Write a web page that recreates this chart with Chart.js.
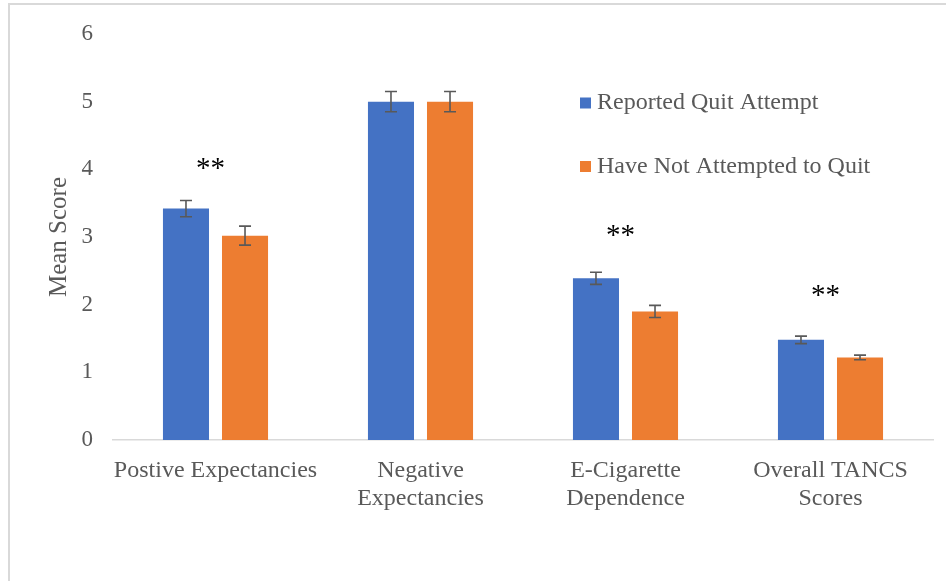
<!DOCTYPE html>
<html>
<head>
<meta charset="utf-8">
<title>Mean Score by Quit Attempt</title>
<script src="https://cdn.jsdelivr.net/npm/chart.js@4.4.1/dist/chart.umd.min.js"></script>
<style>
  html, body { margin: 0; padding: 0; background: #fff; overflow: hidden; }
  #wrap { position: relative; width: 946px; height: 581px; }
  #frame {
    position: absolute; left: 8px; top: 3px; width: 1000px; height: 700px;
    border: 2px solid #d9d9d9; pointer-events: none;
  }
</style>
</head>
<body>
<div id="wrap">
  <canvas id="meanChart" width="946" height="581"></canvas>
  <div id="frame"></div>
</div>
<script>
// categories and series
const categories = [
  ['Postive Expectancies'],
  ['Negative', 'Expectancies'],
  ['E-Cigarette', 'Dependence'],
  ['Overall TANCS', 'Scores']
];
const quitAttempt = [3.42, 5.00, 2.39, 1.48];
const noQuitAttempt = [3.02, 5.00, 1.90, 1.22];
const quitAttemptErr = [0.12, 0.15, 0.09, 0.055];
const noQuitAttemptErr = [0.14, 0.15, 0.09, 0.035];
// significance marks and where they sit (in score units)
const sigMarks = ['**', '', '**', '**'];
const sigHeights = [4.07, 0, 3.08, 2.18];
const yTicks = [0, 1, 2, 3, 4, 5, 6];

const serif = "'Liberation Serif', 'Times New Roman', serif";
const textGray = '#595959';

// error bars on every bar + stars above groups
const errorBarPlugin = {
  id: 'errorBars',
  afterDatasetsDraw(chart) {
    const ctx = chart.ctx;
    const yScale = chart.scales.y;
    const xScale = chart.scales.x;
    ctx.save();
    ctx.strokeStyle = '#595959';
    ctx.lineWidth = 1.6;
    chart.data.datasets.forEach((ds, i) => {
      const meta = chart.getDatasetMeta(i);
      meta.data.forEach((bar, j) => {
        const v = ds.data[j];
        const e = ds.errors[j];
        const top = yScale.getPixelForValue(v + e);
        const bot = yScale.getPixelForValue(v - e);
        const x = bar.x;
        ctx.beginPath();
        ctx.moveTo(x, top); ctx.lineTo(x, bot);
        ctx.moveTo(x - 6, top); ctx.lineTo(x + 6, top);
        ctx.moveTo(x - 6, bot); ctx.lineTo(x + 6, bot);
        ctx.stroke();
      });
    });

    ctx.fillStyle = '#000';
    ctx.font = '29px ' + serif;
    ctx.textAlign = 'center';
    ctx.textBaseline = 'alphabetic';
    sigMarks.forEach((m, j) => {
      if (!m) return;
      const x = xScale.getPixelForValue(j) - 5;
      const y = yScale.getPixelForValue(sigHeights[j]);
      ctx.fillText(m, x, y + 12);
    });
    ctx.restore();
  }
};

// legend drawn inside the plot area
const legendPlugin = {
  id: 'insideLegend',
  afterDraw(chart) {
    const ctx = chart.ctx;
    ctx.save();
    ctx.font = '24px ' + serif;
    ctx.textBaseline = 'middle';
    ctx.textAlign = 'left';
    chart.data.datasets.forEach((ds, i) => {
      const y = 103 + i * 63.5;
      ctx.fillStyle = ds.backgroundColor;
      ctx.fillRect(580, y - 5.5, 11, 11);
      ctx.fillStyle = textGray;
      ctx.fillText(ds.label, 597, y);
    });
    ctx.restore();
  }
};

const ctx = document.getElementById('meanChart').getContext('2d');
new Chart(ctx, {
  type: 'bar',
  data: {
    labels: categories,
    datasets: [{
      label: 'Reported Quit Attempt',
      data: quitAttempt,
      errors: quitAttemptErr,
      backgroundColor: '#4472C4'
    }, {
      label: 'Have Not Attempted to Quit',
      data: noQuitAttempt,
      errors: noQuitAttemptErr,
      backgroundColor: '#ED7D31'
    }]
  },
  options: {
    responsive: false,
    animation: false,
    devicePixelRatio: 1,
    categoryPercentage: 0.576,
    barPercentage: 0.78,
    layout: { padding: { top: 34, right: 13, left: 0, bottom: 0 } },
    plugins: {
      legend: { display: false },
      tooltip: { enabled: false }
    },
    scales: {
      x: {
        grid: { display: false },
        border: { display: true, color: '#d9d9d9', width: 1.5 },
        ticks: {
          color: textGray,
          padding: 9,
          maxRotation: 0,
          autoSkip: false,
          font: { family: serif, size: 24, lineHeight: 1.17 }
        },
        afterFit(scale) { scale.height = 141; }
      },
      y: {
        min: 0,
        max: 6,
        afterBuildTicks(scale) { scale.ticks = yTicks.map(v => ({ value: v })); },
        grid: { display: false, drawTicks: false },
        border: { display: false },
        ticks: {
          color: textGray,
          padding: 20,
          font: { family: serif, size: 23 }
        },
        title: {
          display: true,
          text: 'Mean Score',
          color: textGray,
          padding: { top: 44, bottom: 0 },
          font: { family: serif, size: 25, lineHeight: 1.2 }
        },
        afterFit(scale) { scale.width = 113; }
      }
    }
  },
  plugins: [errorBarPlugin, legendPlugin]
});
</script>
</body>
</html>
